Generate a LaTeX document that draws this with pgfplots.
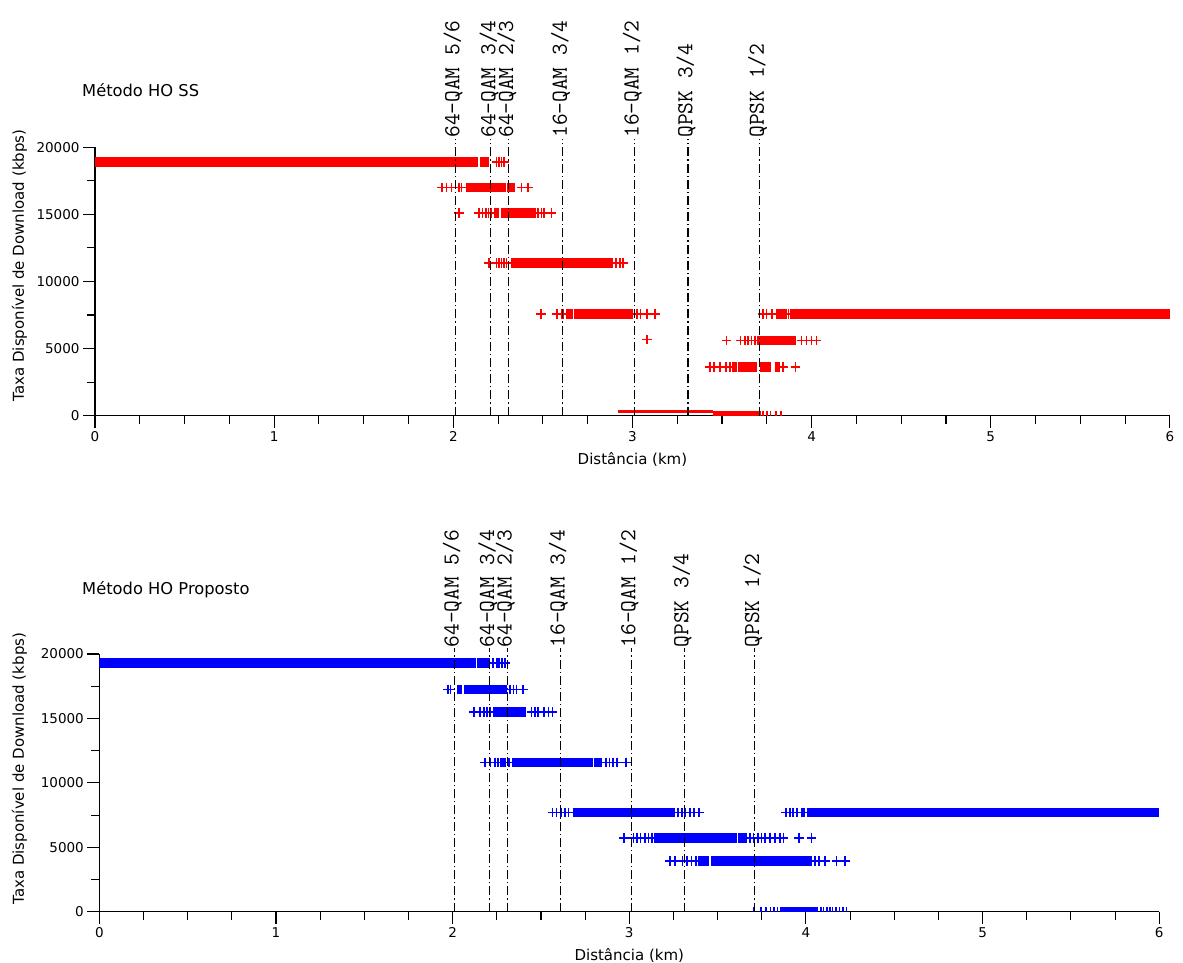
\documentclass[border=0pt]{standalone}
\usepackage{fontspec}
\setmainfont{DejaVu Sans}
\usepackage{pgfplots}
\pgfplotsset{compat=1.18}

\pgfplotsset{
  myaxis/.style={
    scale only axis,
    xmin=0, xmax=6, ymin=0, ymax=20000,
    axis lines*=left,
    axis line style={black, line width=1.1bp},
    tick style={black, line width=1.1bp},
    tick align=outside,
    major tick length=12bp, minor tick length=8bp,
    xtick={0,1,2,3,4,5,6}, minor x tick num=3,
    ytick={0,5000,10000,15000,20000}, minor y tick num=1,
    scaled y ticks=false,
    yticklabel style={/pgf/number format/1000 sep={}},
    /pgf/number format/assume math mode=true,
    tick label style={font=\fontsize{13.5bp}{16bp}\selectfont},
    label style={font=\fontsize{15bp}{18bp}\selectfont},
    xlabel={Distância (km)},
    ylabel={Taxa Disponível de Download (kbps)},
    clip mode=individual,
  },
  bandR/.style={draw=red, line width=9.6bp, line cap=butt, mark=none, forget plot},
  bandB/.style={draw=blue, line width=9.6bp, line cap=butt, mark=none, forget plot},
  markR/.style={color=red, only marks, mark=+, mark size=4.8bp, mark options={solid, draw=red, line width=1.6bp}, forget plot},
  markB/.style={color=blue, only marks, mark=+, mark size=4.8bp, mark options={solid, draw=blue, line width=1.6bp}, forget plot},
  zeroR/.style={color=red, only marks, mark=|, mark size=2.4bp, mark options={solid, draw=red, line width=1.6bp, yshift=2.4bp}, forget plot},
  zeroB/.style={color=blue, only marks, mark=|, mark size=2.4bp, mark options={solid, draw=blue, line width=1.6bp, yshift=2.4bp}, forget plot},
}
\tikzset{
  refl/.style={black, line width=1.1bp, dash pattern=on 9bp off 3bp on 1.2bp off 3bp},
  lbl/.style={rotate=90, anchor=west, inner sep=0pt, font=\ttfamily\fontsize{22.8bp}{25bp}\selectfont},
  ttl/.style={anchor=west, inner sep=0pt, font=\fontsize{16.3bp}{19bp}\selectfont},
}
\newcommand{\seg}[4]{\addplot[#1] coordinates {(#2,#4) (#3,#4)};}

\begin{document}
\begin{tikzpicture}
\useasboundingbox (0,0) rectangle (1183bp,963bp);

% ---------------- top: Metodo HO SS ----------------
\begin{axis}[myaxis, at={(95bp,547.3bp)}, anchor=south west,
  width=1075bp, height=268.4bp,
  xlabel style={at={(axis description cs:0.5,-0.165)}, anchor=center},
  ylabel style={at={(axis description cs:-0.0702,0.56)}, anchor=center}]
\seg{bandR}{0}{2.139}{18900}
\seg{bandR}{2.148}{2.200}{18900}
\seg{bandR}{2.070}{2.294}{17000}
\seg{bandR}{2.300}{2.345}{17000}
\seg{bandR}{2.227}{2.256}{15100}
\seg{bandR}{2.264}{2.461}{15100}
\seg{bandR}{2.321}{2.889}{11360}
\seg{bandR}{2.628}{2.669}{7575}
\seg{bandR}{2.675}{3.004}{7575}
\seg{bandR}{3.800}{3.860}{7575}
\seg{bandR}{3.880}{6.000}{7575}
\seg{bandR}{3.696}{3.912}{5590}
\seg{bandR}{3.553}{3.581}{3610}
\seg{bandR}{3.590}{3.696}{3610}
\seg{bandR}{3.711}{3.771}{3610}
\seg{bandR}{3.795}{3.823}{3610}
\addplot[draw=red, line width=2.4bp, forget plot] coordinates {(2.920,313) (3.450,313)};
\seg{bandR}{3.450}{3.717}{0}
\addplot[markR] coordinates {
(2.240,18900)(2.255,18900)(2.268,18900)(2.283,18900)
(1.938,17000)(1.962,17000)(1.991,17000)(2.033,17000)(2.046,17000)(2.381,17000)(2.418,17000)
(2.033,15100)(2.145,15100)(2.163,15100)(2.182,15100)(2.197,15100)(2.212,15100)(2.474,15100)(2.493,15100)(2.506,15100)(2.549,15100)
(2.200,11360)(2.242,11360)(2.256,11360)(2.270,11360)(2.282,11360)(2.297,11360)(2.907,11360)(2.930,11360)(2.948,11360)
(2.489,7575)(2.580,7575)(2.604,7575)(2.613,7575)(3.026,7575)(3.045,7575)(3.082,7575)(3.125,7575)(3.729,7575)(3.748,7575)(3.780,7575)(3.870,7575)
(3.082,5690)(3.525,5590)(3.603,5590)(3.627,5590)(3.646,5590)(3.665,5590)(3.683,5590)(3.943,5590)(3.971,5590)(3.999,5590)(4.027,5590)
(3.432,3610)(3.454,3610)(3.488,3610)(3.521,3610)(3.544,3610)(3.841,3610)(3.910,3610)
};
\addplot[zeroR] coordinates {(3.730,0)(3.750,0)(3.770,0)(3.800,0)(3.830,0)};
\draw[refl] (axis cs:2.01,0) -- (axis cs:2.01,20600);
\draw[refl] (axis cs:2.21,0) -- (axis cs:2.21,20600);
\draw[refl] (axis cs:2.31,0) -- (axis cs:2.31,20600);
\draw[refl] (axis cs:2.61,0) -- (axis cs:2.61,20600);
\draw[refl] (axis cs:3.01,0) -- (axis cs:3.01,20600);
\draw[refl] (axis cs:3.31,0) -- (axis cs:3.31,20600);
\draw[refl] (axis cs:3.71,0) -- (axis cs:3.71,20600);
\node[lbl] at ([xshift=-2bp]axis cs:2.01,20700) {64-QAM 5/6};
\node[lbl] at ([xshift=-2bp]axis cs:2.21,20700) {64-QAM 3/4};
\node[lbl] at ([xshift=-2bp]axis cs:2.31,20700) {64-QAM 2/3};
\node[lbl] at ([xshift=-2bp]axis cs:2.61,20700) {16-QAM 3/4};
\node[lbl] at ([xshift=-2bp]axis cs:3.01,20700) {16-QAM 1/2};
\node[lbl] at ([xshift=-2bp]axis cs:3.31,20700) {QPSK 3/4};
\node[lbl] at ([xshift=-2bp]axis cs:3.71,20700) {QPSK 1/2};
\node[ttl] at (axis description cs:-0.0121,1.2135) {Método HO SS};
\end{axis}

% ---------------- bottom: Metodo HO Proposto ----------------
\begin{axis}[myaxis, at={(99.3bp,51.3bp)}, anchor=south west,
  width=1060bp, height=257.7bp,
  xlabel style={at={(axis description cs:0.5,-0.168)}, anchor=center},
  ylabel style={at={(axis description cs:-0.0753,0.555)}, anchor=center}]
\seg{bandB}{0}{2.132}{19280}
\seg{bandB}{2.140}{2.212}{19280}
\seg{bandB}{2.026}{2.053}{17260}
\seg{bandB}{2.066}{2.306}{17260}
\seg{bandB}{2.230}{2.415}{15500}
\seg{bandB}{2.268}{2.302}{11590}
\seg{bandB}{2.334}{2.793}{11590}
\seg{bandB}{2.800}{2.844}{11590}
\seg{bandB}{2.680}{3.259}{7710}
\seg{bandB}{4.004}{6.000}{7710}
\seg{bandB}{3.140}{3.608}{5740}
\seg{bandB}{3.617}{3.665}{5740}
\seg{bandB}{3.391}{3.453}{3930}
\seg{bandB}{3.461}{4.032}{3930}
\seg{bandB}{3.853}{4.070}{0}
\addplot[markB] coordinates {
(2.230,19280)(2.250,19280)(2.264,19280)(2.278,19280)(2.296,19280)
(1.975,17260)(1.989,17260)(2.325,17260)(2.344,17260)(2.361,17260)(2.400,17260)
(2.121,15500)(2.155,15500)(2.178,15500)(2.196,15500)(2.212,15500)(2.447,15500)(2.466,15500)(2.482,15500)(2.517,15500)(2.542,15500)(2.566,15500)
(2.183,11590)(2.215,11590)(2.240,11590)(2.258,11590)(2.318,11590)(2.868,11590)(2.887,11590)(2.909,11590)(2.929,11590)(2.981,11590)
(2.566,7710)(2.589,7710)(2.612,7710)(2.636,7710)(2.655,7710)(3.277,7710)(3.297,7710)(3.315,7710)(3.344,7710)(3.366,7710)(3.396,7710)(3.887,7710)(3.909,7710)(3.928,7710)(3.951,7710)(3.976,7710)(3.989,7710)
(2.970,5740)(3.023,5740)(3.045,5740)(3.064,5740)(3.089,5740)(3.108,5740)(3.127,5740)(3.683,5740)(3.702,5740)(3.730,5740)(3.749,5740)(3.768,5740)(3.796,5740)(3.825,5740)(3.853,5740)(3.872,5740)(3.962,5740)(4.032,5740)
(3.230,3930)(3.259,3930)(3.302,3930)(3.328,3930)(3.353,3930)(3.378,3930)(4.051,3930)(4.075,3930)(4.108,3930)(4.174,3930)(4.221,3930)
};
\addplot[zeroB] coordinates {(3.706,0)(3.745,0)(3.775,0)(3.800,0)(3.820,0)(3.838,0)(4.085,0)(4.100,0)(4.120,0)(4.135,0)(4.150,0)(4.170,0)(4.190,0)(4.210,0)(4.230,0)};
\draw[refl] (axis cs:2.01,0) -- (axis cs:2.01,20450);
\draw[refl] (axis cs:2.21,0) -- (axis cs:2.21,20450);
\draw[refl] (axis cs:2.31,0) -- (axis cs:2.31,20450);
\draw[refl] (axis cs:2.61,0) -- (axis cs:2.61,20450);
\draw[refl] (axis cs:3.01,0) -- (axis cs:3.01,20450);
\draw[refl] (axis cs:3.31,0) -- (axis cs:3.31,20450);
\draw[refl] (axis cs:3.71,0) -- (axis cs:3.71,20450);
\node[lbl] at ([xshift=-2bp]axis cs:2.01,20500) {64-QAM 5/6};
\node[lbl] at ([xshift=-2bp]axis cs:2.21,20500) {64-QAM 3/4};
\node[lbl] at ([xshift=-2bp]axis cs:2.31,20500) {64-QAM 2/3};
\node[lbl] at ([xshift=-2bp]axis cs:2.61,20500) {16-QAM 3/4};
\node[lbl] at ([xshift=-2bp]axis cs:3.01,20500) {16-QAM 1/2};
\node[lbl] at ([xshift=-2bp]axis cs:3.31,20500) {QPSK 3/4};
\node[lbl] at ([xshift=-2bp]axis cs:3.71,20500) {QPSK 1/2};
\node[ttl] at (axis description cs:-0.0163,1.248) {Método HO Proposto};
\end{axis}
\end{tikzpicture}
\end{document}
